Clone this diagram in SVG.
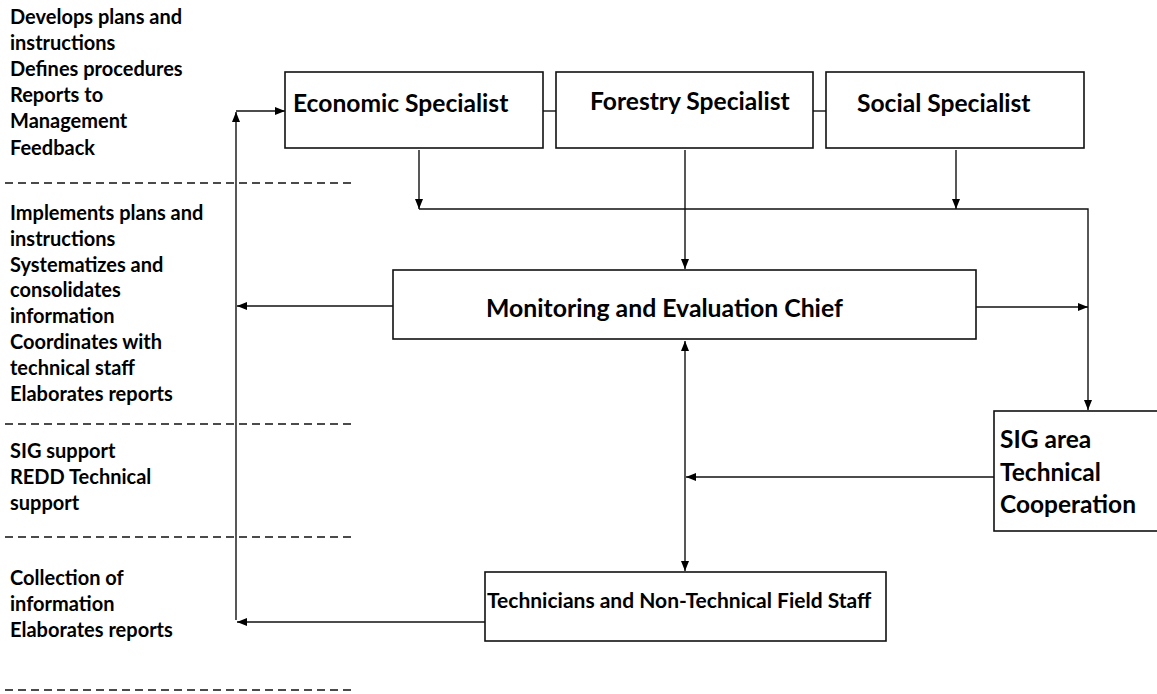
<svg xmlns="http://www.w3.org/2000/svg" width="1157" height="694" viewBox="0 0 1157 694">
<style>
.box{fill:#fff;stroke:#111;stroke-width:1.6}
.lbl{font-family:Lato,"Liberation Sans",sans-serif;font-weight:bold;fill:#000}
.side{font-family:Lato,"Liberation Sans",sans-serif;font-weight:bold;font-size:20px;fill:#000}
.ln{fill:none;stroke:#111;stroke-width:1.4}
.dash{fill:none;stroke:#111;stroke-width:1.3;stroke-dasharray:8 5}
</style>
<defs>
<marker id="ah" markerUnits="userSpaceOnUse" markerWidth="10" markerHeight="10" viewBox="0 0 10 10" refX="10" refY="5" orient="auto-start-reverse">
<path d="M0,1 L10,5 L0,9 z" fill="#000"/>
</marker>
</defs>
<rect width="1157" height="694" fill="#fff"/>
<g id="side-notes">
<text class="side"><tspan x="10" y="24">Develops plans and</tspan><tspan x="10" y="50">instructions</tspan><tspan x="10" y="76">Defines procedures</tspan><tspan x="10" y="102">Reports to</tspan><tspan x="10" y="128">Management</tspan><tspan x="10" y="155">Feedback</tspan></text>
<text class="side"><tspan x="10" y="220">Implements plans and</tspan><tspan x="10" y="246">instructions</tspan><tspan x="10" y="272">Systematizes and</tspan><tspan x="10" y="297">consolidates</tspan><tspan x="10" y="323">information</tspan><tspan x="10" y="349">Coordinates with</tspan><tspan x="10" y="375">technical staff</tspan><tspan x="10" y="401">Elaborates reports</tspan></text>
<text class="side"><tspan x="10" y="458">SIG support</tspan><tspan x="10" y="484">REDD Technical</tspan><tspan x="10" y="510">support</tspan></text>
<text class="side"><tspan x="10" y="585">Collection of</tspan><tspan x="10" y="611">information</tspan><tspan x="10" y="637">Elaborates reports</tspan></text>
</g>
<g id="dividers">
<line class="dash" x1="5" y1="183" x2="354" y2="183"/>
<line class="dash" x1="5" y1="424" x2="354" y2="424"/>
<line class="dash" x1="5" y1="537" x2="354" y2="537"/>
<line class="dash" x1="5" y1="690" x2="354" y2="690"/>
</g>
<g id="connectors">
<line class="ln" x1="236" y1="620" x2="236" y2="112" marker-end="url(#ah)"/>
<line class="ln" x1="236" y1="111" x2="285" y2="111" marker-end="url(#ah)"/>
<line class="ln" x1="543" y1="111" x2="556" y2="111"/>
<line class="ln" x1="813" y1="111" x2="826" y2="111"/>
<line class="ln" x1="419" y1="150" x2="419" y2="209" marker-end="url(#ah)"/>
<line class="ln" x1="956" y1="150" x2="956" y2="209" marker-end="url(#ah)"/>
<polyline class="ln" points="419,209 1088,209 1088,410" marker-end="url(#ah)"/>
<line class="ln" x1="685" y1="150" x2="685" y2="269" marker-end="url(#ah)"/>
<line class="ln" x1="393" y1="306" x2="237" y2="306" marker-end="url(#ah)"/>
<line class="ln" x1="976" y1="307" x2="1088" y2="307" marker-end="url(#ah)"/>
<line class="ln" x1="685" y1="341" x2="685" y2="571" marker-start="url(#ah)" marker-end="url(#ah)"/>
<line class="ln" x1="994" y1="477" x2="686" y2="477" marker-end="url(#ah)"/>
<line class="ln" x1="485" y1="622" x2="237" y2="622" marker-end="url(#ah)"/>
</g>
<g id="economic">
<rect class="box" x="285" y="72" width="258" height="76"/>
<text class="lbl" x="293" y="112" font-size="24.6">Economic Specialist</text>
</g>
<g id="forestry">
<rect class="box" x="556" y="72" width="257" height="76"/>
<text class="lbl" x="590" y="110" font-size="24.6">Forestry Specialist</text>
</g>
<g id="social">
<rect class="box" x="826" y="72" width="258" height="76"/>
<text class="lbl" x="857" y="112" font-size="24.6">Social Specialist</text>
</g>
<g id="monitoring">
<rect class="box" x="393" y="270" width="583" height="69"/>
<text class="lbl" x="486" y="317" font-size="24.8">Monitoring and Evaluation Chief</text>
</g>
<g id="sig">
<rect class="box" x="994" y="411" width="175" height="120"/>
<text class="lbl" font-size="24.5"><tspan x="1000" y="448">SIG area</tspan><tspan x="1000" y="481">Technical</tspan><tspan x="1000" y="513">Cooperation</tspan></text>
</g>
<g id="technicians">
<rect class="box" x="485" y="572" width="401" height="69"/>
<text class="lbl" x="487" y="608" font-size="21">Technicians and Non-Technical Field Staff</text>
</g>
</svg>
